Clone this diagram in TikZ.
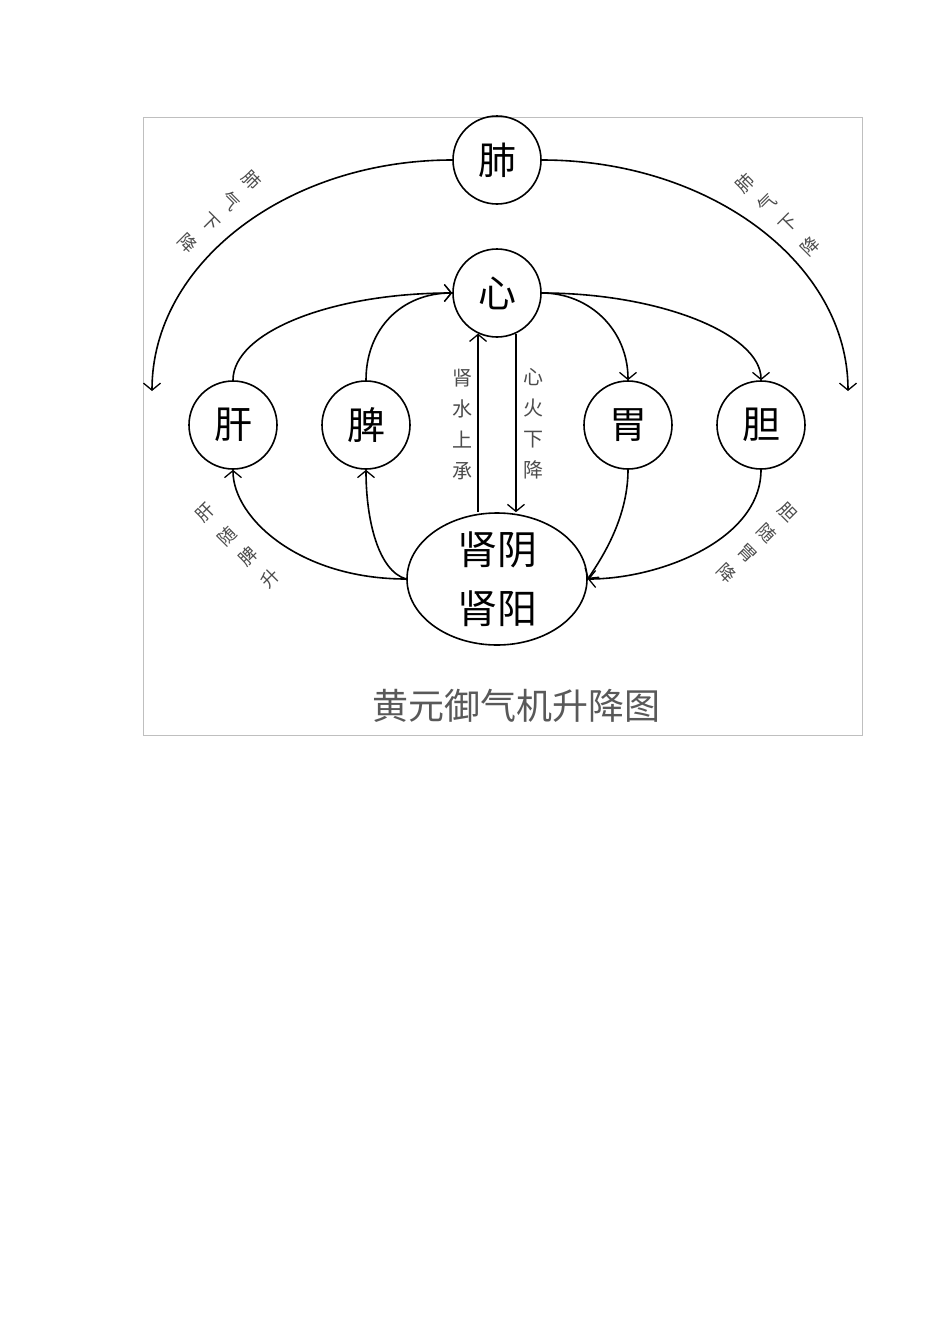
\documentclass[tikz,border=0pt]{standalone}
\usepackage{fontspec}
\newfontfamily\cjk{Noto Sans CJK SC}
\usepackage{tikz}
\usetikzlibrary{arrows.meta}
\usetikzlibrary{shapes.geometric}
\tikzset {
  flow path/.style = {
    draw = black,
    line width = 1.6pt
  },
  % path style with an open barb at the end
  flow/.style = {
    flow path,
    -{Straight Barb[length = 7pt, width = 17pt, line width = 1.3pt]}
  }
}
\tikzset {
  organ node/.style = {
    draw = black,
    line width = 1.6pt,
    inner sep = 0
  },
  % one of the five organs
  organ/.style = {
    organ node,
    circle,
    minimum size = 88pt,
    font = \cjk\fontsize{38}{40}\selectfont
  },
  % kidney, drawn as an ellipse
  kidney/.style = {
    organ node,
    ellipse,
    minimum width = 180pt,
    minimum height = 132pt
  },
  % small grey characters beside a path
  tag/.style = {
    text = black!70,
    inner sep = 0,
    font = \cjk\fontsize{18}{18}\selectfont
  },
  column/.style = {
    tag,
    align = center,
    font = \cjk\fontsize{20}{31}\selectfont
  }
}

\begin{document}
\begin{tikzpicture}[x = 1pt, y = -1pt]
    \useasboundingbox (0,0) rectangle (950,1344);
    \draw[black!25, line width = .8pt] (143,117) rectangle (862,735);

    \node[organ] (fei) at (497,160) {肺};
    \node[organ] (xin) at (497,293) {心};
    \node[organ] (gan) at (233,425) {肝};
    \node[organ] (pi) at (366,425) {脾};
    \node[organ] (wei) at (628,425) {胃};
    \node[organ] (dan) at (761,425) {胆};
    \node[kidney] (shen) at (497,579) {};
    \node[align = center, font = \cjk\fontsize{40}{59}\selectfont]
      (shen-text) at (shen.center) {肾阴\\肾阳};
    \coordinate (fei-left) at (152,391);
    \coordinate (fei-right) at (848,391);

    % lung descends on both sides
    \draw[flow] (fei.west) .. controls +(-166,0) and +(0,-127) .. (fei-left);
    \draw[flow] (fei.east) .. controls +(169,0) and +(0,-127) .. (fei-right);

    % rising to the heart, falling from it
    \draw[flow] (gan.north) .. controls +(0,-48) and +(-121,0) .. (xin.west);
    \draw[flow] (pi.north) .. controls +(0,-52) and +(-50,0) .. (xin.west);
    \draw[flow] (xin.east) .. controls +(48,0) and +(0,-50) .. (wei.north);
    \draw[flow] (xin.east) .. controls +(118,0) and +(0,-46) .. (dan.north);

    % heart and kidney
    \draw[flow] (xin.245 |- shen.north) -- (xin.245);
    \draw[flow] (xin.295) -- (xin.295 |- shen.north);

    % from and to the kidney
    \draw[flow] (shen.west) .. controls +(-107,0) and +(0,48) .. (gan.south);
    \draw[flow] (shen.west) .. controls +(-28,-8) and +(0,50) .. (pi.south);
    \draw[flow] (wei.south) .. controls +(0,50) and +(12,-18) .. (shen.east);
    \draw[flow] (dan.south) .. controls +(0,70) and +(72,0) .. (shen.east);

    \node[column] (shui) at (462,424) {肾\\水\\上\\承};
    \node[column] (huo) at (533,424) {心\\火\\下\\降};

    \foreach \ch/\x/\y [count = \i] in {肺/252/180, 气/231/201, 下/210/222, 降/188/243}
      \node[tag, rotate = -45] (fei-l-\i) at (\x,\y) {\ch};
    \foreach \ch/\x/\y [count = \i] in {肺/745/183, 气/767/203, 下/788/224, 降/810/246}
      \node[tag, rotate = 45] (fei-r-\i) at (\x,\y) {\ch};
    \foreach \ch/\x/\y [count = \i] in {肝/205/513, 随/227/536, 脾/248/556, 升/270/578}
      \node[tag, rotate = 45] (gan-l-\i) at (\x,\y) {\ch};
    \foreach \ch/\x/\y [count = \i] in {胆/787/512, 随/767/533, 胃/747/553, 降/727/573}
      \node[tag, rotate = -45] (dan-r-\i) at (\x,\y) {\ch};

    \node[text = black!65, font = \cjk\fontsize{36}{36}\selectfont]
      (title) at (516,706) {黄元御气机升降图};
\end{tikzpicture}
\end{document}
